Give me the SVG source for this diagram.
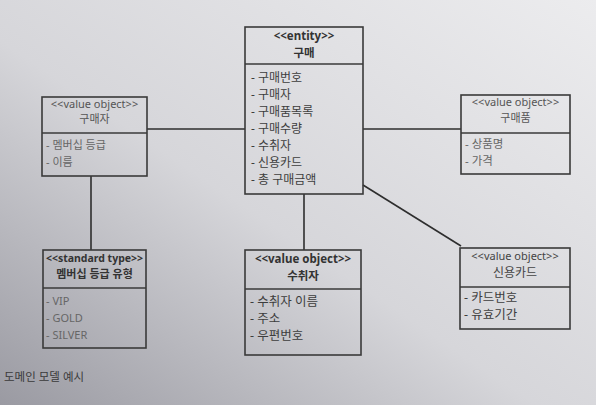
<svg xmlns="http://www.w3.org/2000/svg" width="596" height="405" viewBox="0 0 596 405">
<defs>
<linearGradient id="bg" x1="1" y1="0" x2="0" y2="1">
<stop offset="0" stop-color="#ececee"/>
<stop offset="0.55" stop-color="#d6d6da"/>
<stop offset="1" stop-color="#9a9aa2"/>
</linearGradient>
<style>
.box{fill:none;stroke:#3a3a3a;stroke-width:1.6}
.div{stroke:#3a3a3a;stroke-width:1.4}
.con{stroke:#2e2e2e;stroke-width:1.6;fill:none}
text{font-family:"Noto Sans","Noto Sans CJK KR",sans-serif;fill:#333;font-size:11px}
.st{text-anchor:middle;font-size:11px;fill:#555}
.stb{text-anchor:middle;font-size:11.5px;font-weight:bold;fill:#333}
.nm{text-anchor:middle;font-size:11.5px;font-weight:bold;fill:#333}
.nml{text-anchor:middle;font-size:11px;fill:#555}
.it{font-size:12px;fill:#3d3d3d}
.itl{font-size:11px;fill:#666}
.cap{font-size:11.5px;fill:#3a3a3a}
</style>
</defs>
<rect x="0" y="0" width="596" height="405" fill="url(#bg)"/>
<g id="connectors">
<line class="con" x1="147" y1="129" x2="245" y2="129"/>
<line class="con" x1="363" y1="129" x2="461" y2="129"/>
<line class="con" x1="91" y1="176" x2="91" y2="250"/>
<line class="con" x1="304" y1="194" x2="304" y2="250"/>
<line class="con" x1="363" y1="185" x2="461" y2="246"/>
</g>
<g id="purchase">
<rect class="box" x="245" y="27" width="118" height="167"/>
<line class="div" x1="245" y1="64" x2="363" y2="64"/>
<text class="stb" x="304" y="40">&lt;&lt;entity&gt;&gt;</text>
<text class="nm" x="304" y="57">구매</text>
<text class="it" x="251" y="82">- 구매번호</text>
<text class="it" x="251" y="99">- 구매자</text>
<text class="it" x="251" y="116">- 구매품목록</text>
<text class="it" x="251" y="133">- 구매수량</text>
<text class="it" x="251" y="150">- 수취자</text>
<text class="it" x="251" y="167">- 신용카드</text>
<text class="it" x="251" y="184">- 총 구매금액</text>
</g>
<g id="buyer">
<rect class="box" x="42" y="97" width="105" height="79"/>
<line class="div" x1="42" y1="133" x2="147" y2="133"/>
<text class="st" x="94.5" y="108">&lt;&lt;value object&gt;&gt;</text>
<text class="nml" x="94.5" y="123">구매자</text>
<text class="itl" x="46" y="149">- 멤버십 등급</text>
<text class="itl" x="46" y="166">- 이름</text>
</g>
<g id="item">
<rect class="box" x="461" y="95" width="109" height="79"/>
<line class="div" x1="461" y1="133" x2="570" y2="133"/>
<text class="st" x="515.5" y="106">&lt;&lt;value object&gt;&gt;</text>
<text class="nml" x="515.5" y="122">구매품</text>
<text class="itl" x="465" y="148" style="font-size:11.5px">- 상품명</text>
<text class="itl" x="465" y="165" style="font-size:11.5px">- 가격</text>
</g>
<g id="membership">
<rect class="box" x="43" y="250" width="103" height="98"/>
<line class="div" x1="43" y1="288" x2="146" y2="288"/>
<text class="stb" x="94.5" y="262" style="font-size:10.5px">&lt;&lt;standard type&gt;&gt;</text>
<text class="nm" x="94.5" y="278" style="font-size:11px">멤버십 등급 유형</text>
<text class="itl" x="46" y="305">- VIP</text>
<text class="itl" x="46" y="322">- GOLD</text>
<text class="itl" x="46" y="339">- SILVER</text>
</g>
<g id="recipient">
<rect class="box" x="245" y="250" width="116" height="105"/>
<line class="div" x1="245" y1="289" x2="361" y2="289"/>
<text class="stb" x="303" y="263">&lt;&lt;value object&gt;&gt;</text>
<text class="nm" x="303" y="280">수취자</text>
<text class="it" x="250" y="306" style="font-size:12.5px">- 수취자 이름</text>
<text class="it" x="250" y="323" style="font-size:12.5px">- 주소</text>
<text class="it" x="250" y="340" style="font-size:12.5px">- 우편번호</text>
</g>
<g id="card">
<rect class="box" x="460" y="248" width="110" height="81"/>
<line class="div" x1="460" y1="287" x2="570" y2="287"/>
<text class="st" x="515" y="260" style="fill:#444">&lt;&lt;value object&gt;&gt;</text>
<text class="nm" x="515" y="277" style="font-weight:normal;fill:#444;font-size:12px">신용카드</text>
<text class="it" x="464" y="302" style="font-size:12.5px">- 카드번호</text>
<text class="it" x="464" y="319" style="font-size:12.5px">- 유효기간</text>
</g>
<text class="cap" x="4" y="381">도메인 모델 예시</text>
</svg>
